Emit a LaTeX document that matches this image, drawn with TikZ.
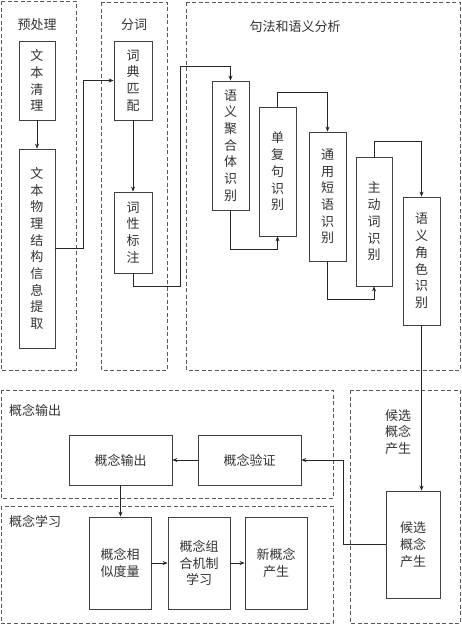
\documentclass[tikz,border=0pt]{standalone}
\usepackage{fontspec}
\setmainfont{Noto Sans CJK SC}
\usetikzlibrary{arrows.meta}
\begin{document}
\begin{tikzpicture}[x=1pt,y=-1pt,
  every node/.style={font=\fontsize{13}{16.7}\selectfont, text=black!80, inner sep=0pt},
  box/.style={draw=black!75, line width=0.8pt, align=center},
  grp/.style={draw=black!65, line width=0.7pt, dash pattern=on 4pt off 2.5pt},
  arr/.style={draw=black!85, line width=0.7pt, -{Stealth[length=5pt,width=4pt]}},
  ln/.style={draw=black!85, line width=0.7pt}]
\useasboundingbox (0,0) rectangle (461,624);
\fill[white] (0,0) rectangle (461,624);
% groups
\draw[grp] (1,1) rectangle (76,370);
\draw[grp] (101,2) rectangle (167,370);
\draw[grp] (186,2) rectangle (460,370);
\draw[grp] (1,390) rectangle (333,498);
\draw[grp] (1,506) rectangle (333,623);
\draw[grp] (350,390) rectangle (460,623);
% group labels
\node (lpre) at (37,25) {预处理};
\node (lseg) at (134,25) {分词};
\node (lsyn) at (295,27) {句法和语义分析};
\node[anchor=west] (lout) at (9,410) {概念输出};
\node[anchor=west] (llearn) at (9,521) {概念学习};
\node[align=left] (lcand) at (398,432) {候选\\概念\\产生};
% boxes
\node[box, minimum width=36, minimum height=79] (pre1) at (37,80.5) {文\\本\\清\\理};
\node[box, minimum width=36, minimum height=199] (pre2) at (37,248.5) {文\\本\\物\\理\\结\\构\\信\\息\\提\\取};
\node[box, minimum width=38, minimum height=79] (seg1) at (133,80.5) {词\\典\\匹\\配};
\node[box, minimum width=38, minimum height=81] (seg2) at (133,232.5) {词\\性\\标\\注};
\node[box, minimum width=37, minimum height=129] (s1) at (230.5,145.5) {语\\义\\聚\\合\\体\\识\\别};
\node[box, minimum width=37, minimum height=129] (s2) at (277.5,171.5) {单\\复\\句\\识\\别};
\node[box, minimum width=37, minimum height=129] (s3) at (327.5,196.5) {通\\用\\短\\语\\识\\别};
\node[box, minimum width=36, minimum height=129] (s4) at (374,221.5) {主\\动\\词\\识\\别};
\node[box, minimum width=37, minimum height=128] (s5) at (421.5,261) {语\\义\\角\\色\\识\\别};
\node[box, minimum width=103, minimum height=50] (out) at (120.5,460) {概念输出};
\node[box, minimum width=103, minimum height=50] (ver) at (249.5,460) {概念验证};
\node[box, minimum width=62, minimum height=92] (l1) at (120,563) {概念相\\似度量};
\node[box, minimum width=62, minimum height=92] (l2) at (199,563) {概念组\\合机制\\学习};
\node[box, minimum width=62, minimum height=92] (l3) at (276,563) {新概念\\产生};
\node[box, minimum width=54, minimum height=107] (cand) at (413,544.5) {候选\\概念\\产生};
% connectors
\draw[arr] (pre1.south) -- (pre2.north);
\draw[arr] (pre2.east) -- ++(28,0) |- (seg1.west);
\draw[arr] (seg1.south) -- (seg2.north);
\coordinate (c1) at (180,286);
\coordinate (c2) at (180,66);
\draw[arr] (seg2.south) |- (c1) -- (c2) -| (s1.north);
\draw[arr] (s1.south) -- ++(0,39) -| (s2.south);
\draw[arr] (s2.north) -- ++(0,-14) -| (s3.north);
\draw[arr] (s3.south) -- ++(0,38) -| (s4.south);
\draw[arr] (s4.north) -- ++(0,-15) -| (s5.north);
\draw[arr] (s5.south) -- (s5.south |- cand.north);
\draw[arr] (cand.west) -- ++(-42,0) |- (ver.east);
\draw[arr] (ver.west) -- (out.east);
\draw[arr] (out.south) -- (out.south |- l1.north);
\draw[arr] (l1.east) -- (l2.west);
\draw[arr] (l2.east) -- (l3.west);
\end{tikzpicture}
\end{document}
